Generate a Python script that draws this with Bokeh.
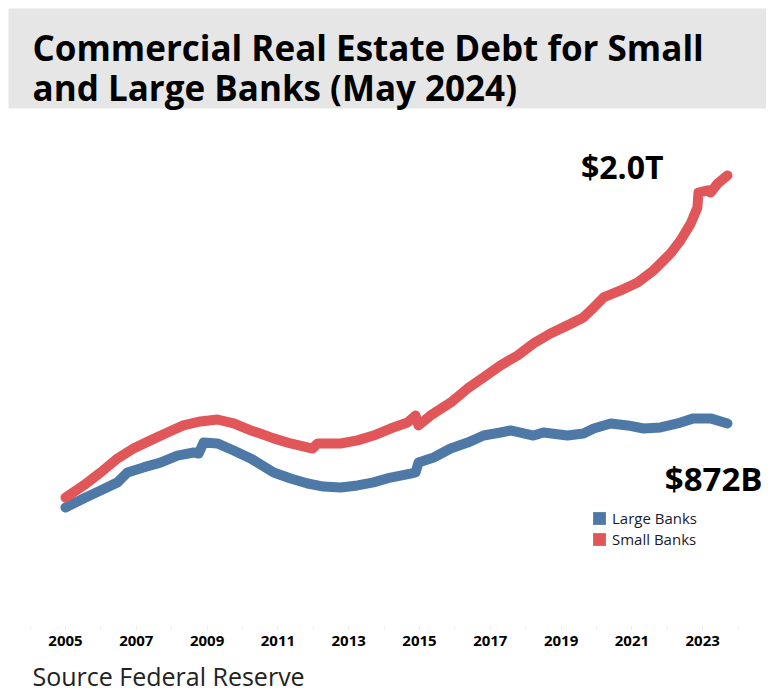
from bokeh.plotting import figure
from bokeh.models import Range1d, Label, BoxAnnotation, Legend, LegendItem, FixedTicker, Title
from bokeh.embed import file_html
from bokeh.resources import INLINE

# ---- data (billions of USD) ----
small_years = [2005.00, 2005.51, 2005.99, 2006.47, 2006.92, 2007.40, 2007.88, 2008.33, 2008.81, 2009.29,
               2009.75, 2010.23, 2010.42, 2010.88, 2011.36, 2011.98, 2012.12, 2012.77, 2013.25, 2013.70,
               2014.18, 2014.66, 2014.89, 2014.97, 2015.31, 2015.88, 2016.36, 2016.81, 2017.29, 2017.77,
               2018.22, 2018.70, 2019.18, 2019.63, 2019.92, 2020.20, 2020.68, 2021.16, 2021.61, 2022.09,
               2022.37, 2022.66, 2022.85, 2022.88, 2023.14, 2023.22, 2023.42, 2023.70]
small_banks = [535, 590, 649, 713, 758, 795, 831, 863, 881, 890,
               872, 840, 831, 804, 781, 758, 781, 781, 795, 817,
               849, 876, 908, 863, 908, 967, 1031, 1081, 1136, 1181,
               1236, 1281, 1318, 1354, 1399, 1445, 1477, 1513, 1568, 1645,
               1704, 1781, 1854, 1922, 1932, 1922, 1963, 2000]

large_years = [2005.00, 2005.51, 2005.99, 2006.47, 2006.75, 2007.20, 2007.68, 2008.16, 2008.62, 2008.76,
               2008.90, 2009.29, 2009.75, 2010.23, 2010.42, 2010.88, 2011.36, 2011.84, 2012.29, 2012.77,
               2013.25, 2013.70, 2014.18, 2014.75, 2014.89, 2014.97, 2015.40, 2015.88, 2016.36, 2016.81,
               2017.29, 2017.57, 2018.22, 2018.50, 2019.18, 2019.63, 2019.92, 2020.40, 2020.88, 2021.33,
               2021.81, 2022.29, 2022.74, 2023.22, 2023.70]
large_banks = [490, 531, 567, 604, 649, 672, 694, 726, 740, 735,
               785, 781, 749, 713, 694, 649, 622, 599, 585, 581,
               590, 604, 626, 644, 649, 694, 717, 758, 785, 817,
               831, 840, 817, 831, 817, 826, 849, 872, 863, 849,
               854, 872, 895, 895, 872]

tick_years = [2005, 2007, 2009, 2011, 2013, 2015, 2017, 2019, 2021, 2023]
minor_years = list(range(2004, 2025))
series_names = ["Large Banks", "Small Banks"]
end_labels = ["$872B", "$2.0T"]
title_lines = ["Commercial Real Estate Debt for Small", "and Large Banks (May 2024)"]
source_text = "Source Federal Reserve"

BLUE = "#4e79a7"
RED = "#e15759"
FONT = "Open Sans"

X0, X1 = 2003.164, 2024.802
Y0, Y1 = -51.4, 2795.4

p = figure(frame_width=766, frame_height=626, output_backend="svg", toolbar_location=None,
           x_range=Range1d(X0, X1), y_range=Range1d(Y0, Y1),
           min_border_left=0, min_border_right=0, min_border_top=0, min_border_bottom=0)
p.outline_line_color = None
p.grid.visible = False
p.yaxis.visible = False
p.background_fill_color = "white"
p.border_fill_color = "white"

# title box
p.add_layout(BoxAnnotation(left=2003.39, right=X1, bottom=2304.2, top=2759.0,
                           fill_color="#e6e6e6", fill_alpha=1.0, line_color=None, level="underlay"))
for i, t in enumerate(title_lines):
    p.add_layout(Label(x=X0, y=Y1, x_offset=32, y_offset=-47 - 39.5 * i, text=t,
                       text_font=FONT, text_font_style="bold", text_font_size="35px",
                       text_color="black", text_baseline="alphabetic", text_align="left"))

# lines
lr = p.line(large_years, large_banks, line_color=BLUE, line_width=10, line_cap="round", line_join="round")
sr = p.line(small_years, small_banks, line_color=RED, line_width=10, line_cap="round", line_join="round")

# legend squares (dummy renderers with no visible data, only used for the legend glyphs)
nan = float("nan")
lq = p.quad(left=[nan], right=[nan], top=[nan], bottom=[nan], fill_color=BLUE, line_color=None)
sq = p.quad(left=[nan], right=[nan], top=[nan], bottom=[nan], fill_color=RED, line_color=None)
for name, rend, ypos in [(series_names[0], lq, 98), (series_names[1], sq, 77)]:
    p.add_layout(Legend(items=[LegendItem(label=name, renderers=[rend])],
                        location=(591, ypos), orientation="vertical",
                        glyph_width=16, glyph_height=16, label_height=16, spacing=0,
                        label_standoff=5, padding=0, margin=0,
                        border_line_color=None, background_fill_alpha=0,
                        label_text_font=FONT, label_text_font_size="15px", label_text_color="#1a1a2e"))

# end labels
p.add_layout(Label(x=small_years[-1], y=small_banks[-1], x_offset=-64, y_offset=9, text=end_labels[1],
                   text_font=FONT, text_font_style="bold", text_font_size="32px", text_color="black",
                   text_align="right", text_baseline="middle"))
p.add_layout(Label(x=large_years[-1], y=large_banks[-1], x_offset=35, y_offset=-55, text=end_labels[0],
                   text_font=FONT, text_font_style="bold", text_font_size="33px", text_color="black",
                   text_align="right", text_baseline="middle"))

# x axis
ax = p.xaxis[0]
ax.ticker = FixedTicker(ticks=tick_years, minor_ticks=minor_years)
ax.axis_line_color = None
ax.major_tick_line_color = "#ececec"
ax.minor_tick_line_color = "#ececec"
ax.major_tick_out = 3
ax.major_tick_in = 0
ax.minor_tick_out = 3
ax.minor_tick_in = 0
ax.major_label_standoff = 6
ax.major_label_text_font = FONT
ax.major_label_text_font_style = "bold"
ax.major_label_text_font_size = "15px"
ax.major_label_text_color = "black"

p.add_layout(Title(text=source_text, align="left", offset=32, standoff=17,
                   text_font=FONT, text_font_style="normal", text_font_size="25px",
                   text_color="#222222"), "below")

open("out.html", "w").write(file_html(p, INLINE))
